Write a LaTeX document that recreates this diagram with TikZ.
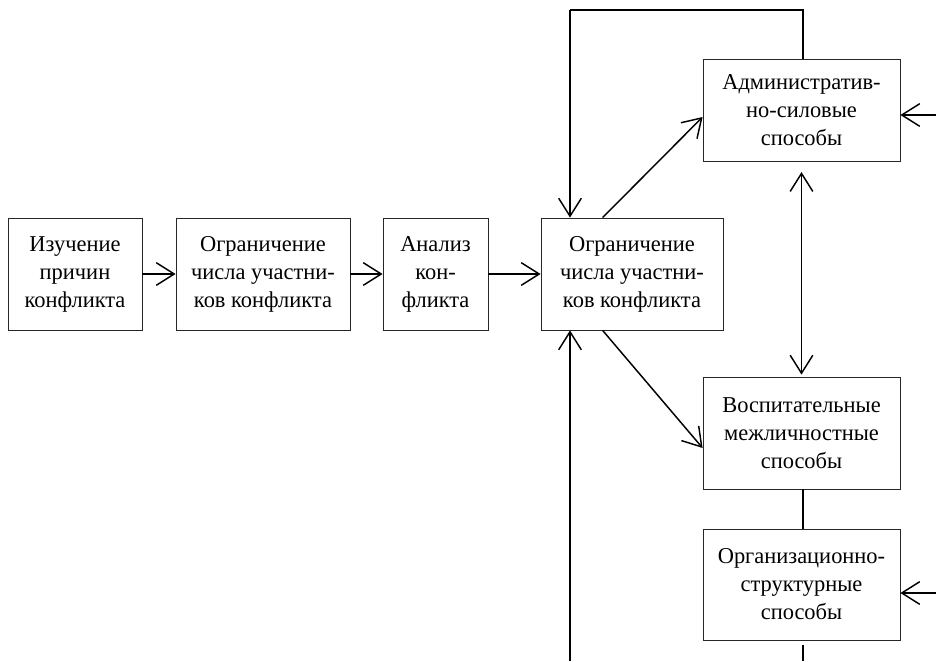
\documentclass[tikz,border=0pt]{standalone}
\usepackage{fontspec}
\setmainfont{Liberation Serif}[FakeStretch=0.99]
\usetikzlibrary{arrows.meta}
\begin{document}
\begin{tikzpicture}[x=0.75pt,y=-0.75pt,
  box/.style={draw=black!85, line width=0.6pt, align=center, inner sep=0pt,
    font=\fontsize{17}{21}\selectfont},
  tip/.style={},
  arr/.style={line width=1.1pt, -{Straight Barb[length=13.5pt,width=17pt]}},
  darr/.style={line width=1.1pt, {Straight Barb[length=13.5pt,width=17pt]}-{Straight Barb[length=13.5pt,width=17pt]}},
  ln/.style={line width=1.1pt}]
\useasboundingbox (0,0) rectangle (936,661);
\node[box, minimum width=100.5pt, minimum height=84pt] (b1) at (75,274) {Изучение\\причин\\конфликта};
\node[box, minimum width=130.5pt, minimum height=84pt] (b2) at (263,274) {Ограничение\\числа участни-\\ков конфликта};
\node[box, minimum width=78.75pt, minimum height=84pt] (b3) at (435.5,274) {Анализ\\кон-\\фликта};
\node[box, minimum width=136.5pt, minimum height=84pt] (b4) at (632,274) {Ограничение\\числа участни-\\ков конфликта};
\node[box, minimum width=147.75pt, minimum height=76.5pt] (adm) at (801.5,110) {Административ-\\но-силовые\\способы};
\node[box, minimum width=147.75pt, minimum height=84pt] (vosp) at (801.5,433) {Воспитательные\\межличностные\\способы};
\node[box, minimum width=147.75pt, minimum height=83.25pt] (org) at (801.5,584.5) {Организационно-\\структурные\\способы};
\coordinate (top) at (570,10);
\coordinate (ra) at (936,115);
\coordinate (rb) at (936,593);
\coordinate (bl) at (570,661);
\coordinate (br) at (803,661);
\draw[arr] (b1.east) -- (b2.west);
\draw[arr] (b2.east) -- (b3.west);
\draw[arr] (b3.east) -- (b4.west);
\draw[ln] ([xshift=1pt]adm.north) -- ([xshift=1pt]adm.north |- top) -- (top);
\draw[arr] (top) -- (top |- b4.north);
\draw[arr] ([xshift=46.5pt]b4.north west) -- ([yshift=-5.25pt]adm.west);
\draw[arr] ([xshift=46.5pt]b4.south west) -- ([yshift=-11.25pt]vosp.west);
\draw[darr] ([yshift=-8pt]adm.south) -- ([yshift=1.5pt]vosp.north);
\draw[ln] ([xshift=1pt]vosp.south) -- ([xshift=1pt]org.north);
\draw[arr] (ra) -- (ra -| adm.east);
\draw[arr] (rb) -- (rb -| org.east);
\draw[arr] (bl) -- (bl |- b4.south);
\draw[ln] ([xshift=1pt,yshift=-3.75pt]org.south) -- ([xshift=1pt]org.south |- br);
\end{tikzpicture}
\end{document}
